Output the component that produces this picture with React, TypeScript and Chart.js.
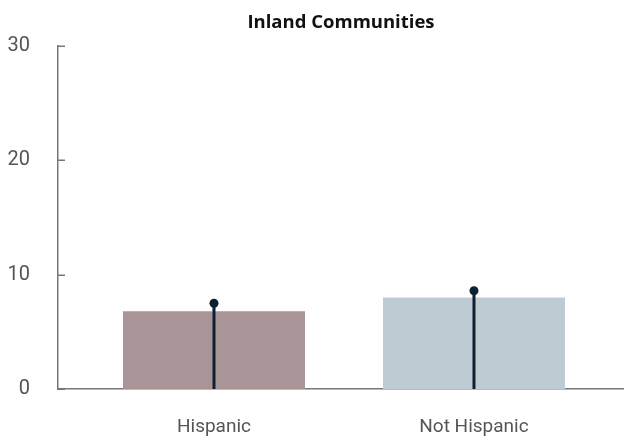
import React, { useEffect, useRef } from "react";
import { Chart, registerables } from "chart.js";

Chart.register(...registerables);

const title = "Inland Communities";
const categories = ["Hispanic", "Not Hispanic"];
const values = [6.8, 8.0];
const upperValues = [7.5, 8.6];
const barColors = ["#a99598", "#becbd3"];
const yTickValues = [0, 10, 20, 30];

const stemColor = "#0c2233";
const axisColor = "#777777";
const labelColor = "#555555";
const fontFamily = "Roboto, 'Open Sans', sans-serif";
const titleFamily = "'Open Sans', Roboto, sans-serif";

const innerTicks = {
  id: "innerTicks",
  afterDatasetsDraw(chart: any) {
    const y = chart.scales.y;
    const ctx = chart.ctx;
    const left = chart.chartArea.left;
    ctx.save();
    ctx.strokeStyle = axisColor;
    ctx.lineWidth = 1.5;
    y.ticks.forEach((t: any) => {
      const py = Math.round(y.getPixelForValue(t.value)) + 0.25;
      ctx.beginPath();
      ctx.moveTo(left, py);
      ctx.lineTo(left + 7, py);
      ctx.stroke();
    });
    ctx.restore();
  },
};

export default function App() {
  const ref = useRef<HTMLCanvasElement | null>(null);

  useEffect(() => {
    if (!ref.current) return;
    const stems = categories.map((_, i) => ({
      type: "line" as const,
      data: [
        { x: i, y: 0 },
        { x: i, y: upperValues[i] },
      ],
      borderColor: stemColor,
      backgroundColor: stemColor,
      borderWidth: 3,
      pointRadius: [0, 4.5],
      pointHoverRadius: [0, 4.5],
      pointBorderWidth: 0,
      order: 1,
      clip: false as any,
    }));
    const chart = new Chart(ref.current, {
      type: "bar",
      data: {
        datasets: [
          {
            type: "bar",
            data: categories.map((_, i) => ({ x: i, y: values[i] })),
            backgroundColor: barColors,
            borderWidth: 0,
            barPercentage: 0.7,
            categoryPercentage: 1,
            order: 2,
          } as any,
          ...stems,
        ],
      },
      options: {
        animation: false,
        responsive: false,
        devicePixelRatio: 1,
        layout: { autoPadding: false, padding: { left: 0, right: 0, top: 0, bottom: 0 } },
        plugins: {
          legend: { display: false },
          tooltip: { enabled: false },
          title: {
            display: true,
            text: title,
            fullSize: false,
            color: "#111111",
            font: { family: titleFamily, size: 18.5, weight: "bold" },
            padding: { top: 12, bottom: 12 },
          },
        },
        scales: {
          x: {
            type: "linear",
            offset: false,
            min: -0.6,
            max: 1.577,
            afterBuildTicks: (scale: any) => {
              scale.ticks = categories.map((_, i) => ({ value: i }));
            },
            afterFit: (scale: any) => {
              scale.height = 52;
            },
            ticks: {
              callback: (v: any) => categories[Math.round(Number(v))] ?? "",
              color: labelColor,
              font: { family: fontFamily, size: 19 },
              padding: 27,
              autoSkip: false,
              maxRotation: 0,
            },
            grid: { display: false, drawTicks: false },
            border: { display: true, color: axisColor, width: 1.5 },
          },
          y: {
            type: "linear",
            min: 0,
            max: 30,
            afterBuildTicks: (scale: any) => {
              scale.ticks = yTickValues.map((v) => ({ value: v }));
            },
            afterFit: (scale: any) => {
              scale.width = 58;
            },
            ticks: {
              color: labelColor,
              font: { family: fontFamily, size: 20 },
              padding: 28,
            },
            grid: { display: false, drawTicks: false },
            border: { display: true, color: axisColor, width: 1.5 },
          },
        },
      },
      plugins: [innerTicks],
    });
    return () => chart.destroy();
  }, []);

  return (
    <div style={{ position: "fixed", left: 0, top: 0, width: 624, height: 441, background: "#ffffff" }}>
      <canvas ref={ref} width={624} height={441} style={{ display: "block", width: 624, height: 441 }} />
    </div>
  );
}
